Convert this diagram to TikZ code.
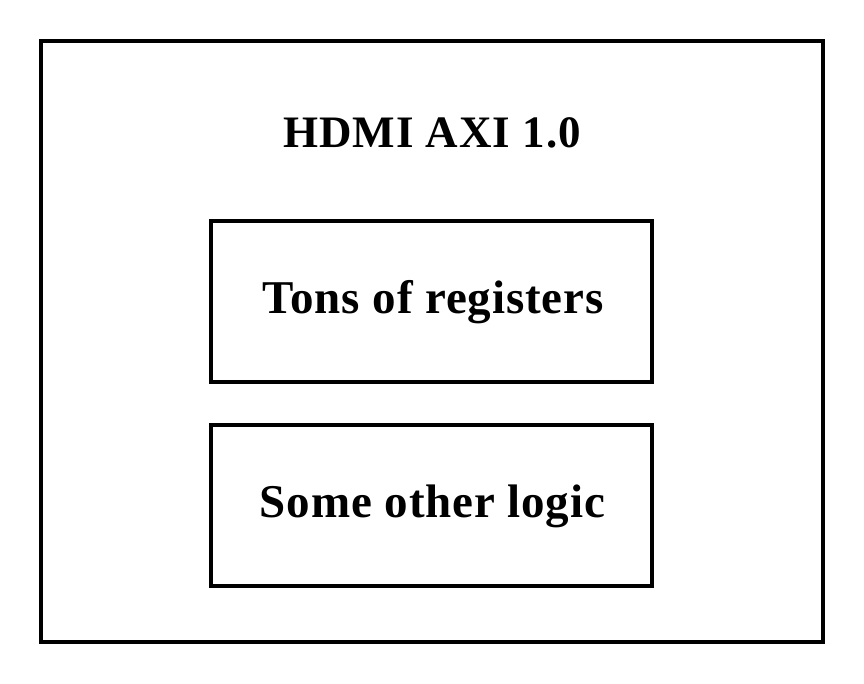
\documentclass[tikz,border=0pt]{standalone}
\usepackage{fontspec}
\setmainfont{Liberation Serif}
\newfontfamily\titlefont[LetterSpace=2.2]{Liberation Serif}
\newfontfamily\boxfont[LetterSpace=1.8]{Liberation Serif}
\tikzset{
  frame/.style={draw=black, line width=3.5pt},
  label/.style={font=\titlefont\bfseries\fontsize{45}{48}\selectfont, anchor=base, inner sep=0pt},
  boxlabel/.style={font=\boxfont\bfseries\fontsize{47}{50}\selectfont, anchor=base, inner sep=0pt}
}
\begin{document}
\begin{tikzpicture}[x=1pt, y=-1pt]
  \useasboundingbox (0,0) rectangle (864,684);
  \draw[frame] (41,41) rectangle (823,642);
  \node[frame, minimum width=441pt, minimum height=161pt, inner sep=0pt] (regs) at (431.5,301.5) {};
  \node[frame, minimum width=441pt, minimum height=161pt, inner sep=0pt] (logic) at (431.5,505.5) {};
  \node[label] (title) at (432,148) {HDMI AXI 1.0};
  \node[boxlabel] (regstext) at (433,313) {Tons of registers};
  \node[boxlabel] (logictext) at (432.5,517) {Some other logic};
\end{tikzpicture}
\end{document}
